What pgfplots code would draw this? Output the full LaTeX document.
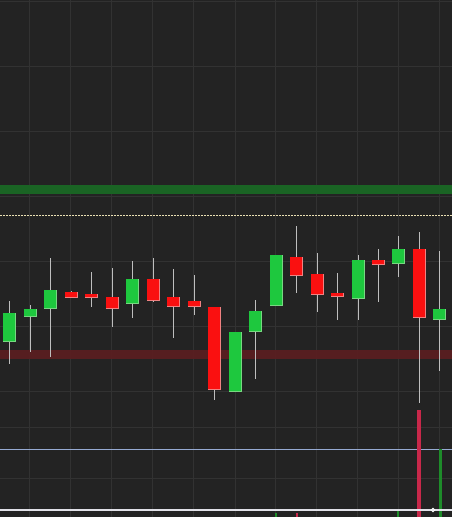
\documentclass[border=0pt]{standalone}
\usepackage{pgfplots}
\usepackage{pgfplotstable}
\pgfplotsset{compat=1.18}
\definecolor{bg}{RGB}{35,35,35}
\definecolor{gridc}{RGB}{50,50,50}
\definecolor{cgreen}{RGB}{30,200,62}
\definecolor{cred}{RGB}{250,16,16}
\definecolor{gedge}{RGB}{120,215,130}
\definecolor{redge}{RGB}{240,130,130}
\definecolor{wickc}{RGB}{190,190,190}
\definecolor{gband}{RGB}{26,100,36}
\definecolor{rband}{RGB}{92,30,32}
\definecolor{dotc}{RGB}{235,225,180}
\definecolor{bluel}{RGB}{150,170,210}
\definecolor{whitel}{RGB}{225,225,232}
\definecolor{vred}{RGB}{200,40,74}
\definecolor{vgreen}{RGB}{30,140,42}
% x = candle centre, top/bot = body edges, whi/wlo = wick ends (screen rows, downward)
\pgfplotstableread{
x   top bot whi wlo
9   313 341 301 364
30  309 316 305 352
50  290 308 258 357
132 279 303 261 318
235 332 391 332 391
255 311 331 300 379
276 255 305 255 305
358 260 298 255 320
398 249 263 236 277
439 309 319 251 371
}\greentab
\pgfplotstableread{
x   top bot whi wlo
71  292 297 291 298
91  294 297 272 307
112 297 308 268 327
153 279 300 258 302
173 297 306 269 338
194 301 306 275 315
214 307 389 307 400
296 257 275 226 293
317 274 294 253 312
337 293 296 273 320
378 260 264 249 302
419 249 317 232 403
}\redtab
\begin{document}
\begin{tikzpicture}
\begin{axis}[
  width=452pt, height=517pt, scale only axis,
  xmin=0, xmax=452, ymin=0, ymax=517, y dir=reverse,
  enlargelimits=false,
  axis background/.style={fill=bg},
  axis line style={draw=none},
  major tick length=0pt,
  xtick={29.3,70,111,152.7,193.3,235,275,316,357.3,398.3,439.3},
  ytick={1,66,131,196,261,326,391,427,478},
  xticklabels={}, yticklabels={},
  grid=major,
  major grid style={draw=gridc, line width=0.8pt},
  clip=true,
]
% horizontal bands and lines
\addplot[fill=gband, draw=none] coordinates {(0,184.5) (452,184.5) (452,194) (0,194)} -- cycle;
\addplot[fill=rband, draw=none, opacity=0.9] coordinates {(0,350) (452,350) (452,359) (0,359)} -- cycle;
\addplot[dotc, line width=1pt, dash pattern=on 2pt off 1pt] coordinates {(0,215) (452,215)};
\addplot[bluel, line width=1pt] coordinates {(0,449) (452,449)};
% wicks
\addplot[draw=none, mark=none, error bars/.cd, y dir=both, y explicit, error mark=none,
  error bar style={draw=wickc, line width=1pt}]
  table[x=x, y expr={(\thisrow{whi}+\thisrow{wlo})/2}, y error expr={(\thisrow{wlo}-\thisrow{whi})/2}] {\greentab};
\addplot[draw=none, mark=none, error bars/.cd, y dir=both, y explicit, error mark=none,
  error bar style={draw=wickc, line width=1pt}]
  table[x=x, y expr={(\thisrow{whi}+\thisrow{wlo})/2}, y error expr={(\thisrow{wlo}-\thisrow{whi})/2}] {\redtab};
% body edges
\addplot[draw=none, mark=none, error bars/.cd, y dir=both, y explicit, error mark=none,
  error bar style={draw=gedge, line width=13pt}]
  table[x=x, y expr={(\thisrow{top}+\thisrow{bot})/2}, y error expr={(\thisrow{bot}-\thisrow{top})/2+0.5}] {\greentab};
\addplot[draw=none, mark=none, error bars/.cd, y dir=both, y explicit, error mark=none,
  error bar style={draw=redge, line width=13pt}]
  table[x=x, y expr={(\thisrow{top}+\thisrow{bot})/2}, y error expr={(\thisrow{bot}-\thisrow{top})/2+0.5}] {\redtab};
% bodies
\addplot[draw=none, mark=none, error bars/.cd, y dir=both, y explicit, error mark=none,
  error bar style={draw=cgreen, line width=12pt}]
  table[x=x, y expr={(\thisrow{top}+\thisrow{bot})/2}, y error expr={(\thisrow{bot}-\thisrow{top})/2}] {\greentab};
\addplot[draw=none, mark=none, error bars/.cd, y dir=both, y explicit, error mark=none,
  error bar style={draw=cred, line width=12pt}]
  table[x=x, y expr={(\thisrow{top}+\thisrow{bot})/2}, y error expr={(\thisrow{bot}-\thisrow{top})/2}] {\redtab};
% volume bars
\addplot[vred, line width=4pt] coordinates {(419,410) (419,517)};
\addplot[vgreen, line width=3pt] coordinates {(440,449) (440,517)};
\addplot[vgreen, line width=2pt] coordinates {(398,510) (398,517)};
\addplot[vgreen, line width=2pt] coordinates {(276,513) (276,517)};
\addplot[vred, line width=2pt] coordinates {(296.5,513) (296.5,517)};
\addplot[whitel, line width=1.2pt] coordinates {(0,510) (452,510)};
\addplot[only marks, mark=o, mark size=1.8pt, mark options={draw=white, fill=bg, line width=0.8pt}] coordinates {(433,510)};
\end{axis}
\pgfresetboundingbox
\path (current axis.south west) rectangle (current axis.north east);
\end{tikzpicture}
\end{document}
